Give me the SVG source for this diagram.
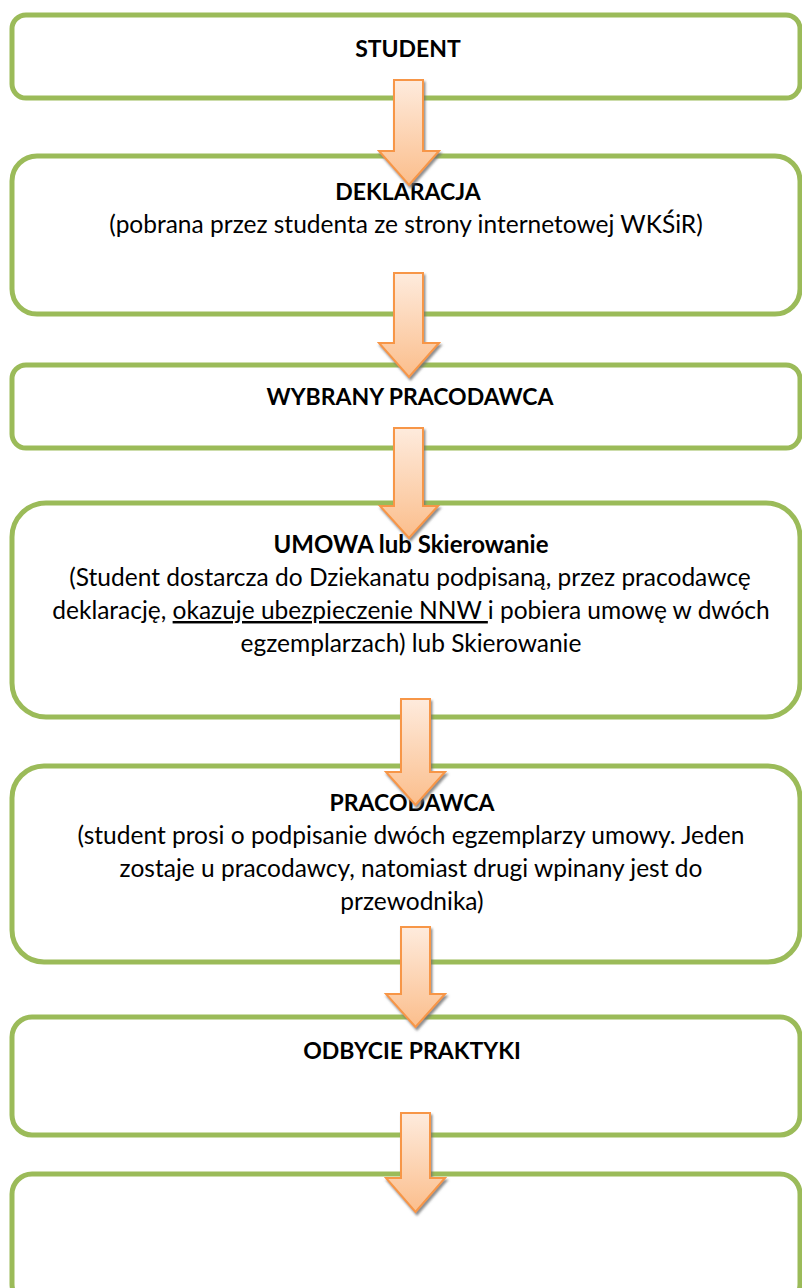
<svg xmlns="http://www.w3.org/2000/svg" width="802" height="1288" viewBox="0 0 802 1288">
<style>
.box{fill:#ffffff;stroke:#9BBB59;stroke-width:5}
.t{font-family:Lato,"Liberation Sans",sans-serif;font-size:24.5px;fill:#000;text-anchor:middle}
.b{font-weight:bold;font-size:23px}
.arr{fill:url(#og);stroke:#F79646;stroke-width:2;stroke-linejoin:miter;filter:url(#sh)}
</style>
<defs>
<linearGradient id="og" x1="0" y1="0" x2="0" y2="1">
<stop offset="0" stop-color="#FEEBDD"/>
<stop offset="1" stop-color="#FBBE8C"/>
</linearGradient>
<filter id="sh" x="-30%" y="-10%" width="160%" height="130%">
<feDropShadow dx="1.5" dy="2.5" stdDeviation="1" flood-color="#707070" flood-opacity="0.8"/>
</filter>
</defs>
<g id="n1"><rect class="box" x="12" y="15" width="788" height="83" rx="14"/><text class="t b" x="408" y="57">STUDENT</text></g>
<g id="n2"><rect class="box" x="12" y="156" width="788" height="158" rx="25"/><text class="t b" x="408" y="200">DEKLARACJA</text><text class="t" x="406" y="233">(pobrana przez studenta ze strony internetowej WKŚiR)</text></g>
<g id="n3"><rect class="box" x="12" y="365" width="788" height="83" rx="14"/><text class="t b" x="410" y="405">WYBRANY PRACODAWCA</text></g>
<g id="n4"><rect class="box" x="12" y="503" width="788" height="214" rx="34"/><text class="t b" x="411" y="553" style="font-size:24px">UMOWA lub Skierowanie</text><text class="t" x="410" y="586">(Student dostarcza do Dziekanatu podpisaną, przez pracodawcę</text><text class="t" x="411" y="619">deklarację, <tspan text-decoration="underline">okazuje ubezpieczenie NNW </tspan>i pobiera umowę w dwóch</text><text class="t" x="411" y="652">egzemplarzach) lub Skierowanie</text></g>
<g id="n5"><rect class="box" x="12" y="766" width="788" height="196" rx="32"/><text class="t b" x="412" y="811">PRACODAWCA</text><text class="t" x="411" y="844">(student prosi o podpisanie dwóch egzemplarzy umowy. Jeden</text><text class="t" x="411" y="877">zostaje u pracodawcy, natomiast drugi wpinany jest do</text><text class="t" x="412" y="910">przewodnika)</text></g>
<g id="n6"><rect class="box" x="12" y="1017" width="788" height="118" rx="20"/><text class="t b" x="412" y="1059">ODBYCIE PRAKTYKI</text></g>
<g id="n7"><rect class="box" x="12" y="1174" width="788" height="130" rx="20"/></g>
<g id="connectors">
<polygon class="arr" points="394,80 423,80 423,151 439,151 409,185 379,151 394,151"/>
<polygon class="arr" points="394,273 423,273 423,343 439,343 409,377 379,343 394,343"/>
<polygon class="arr" points="394,428 423,428 423,506 438,506 409,538 380,506 394,506"/>
<polygon class="arr" points="401,699 430,699 430,772 445,772 415.5,805 386,772 401,772"/>
<polygon class="arr" points="401,927 430,927 430,994 445,994 415.5,1027 386,994 401,994"/>
<polygon class="arr" points="401,1113 430,1113 430,1178 445,1178 415.5,1212 386,1178 401,1178"/>
</g>
</svg>
